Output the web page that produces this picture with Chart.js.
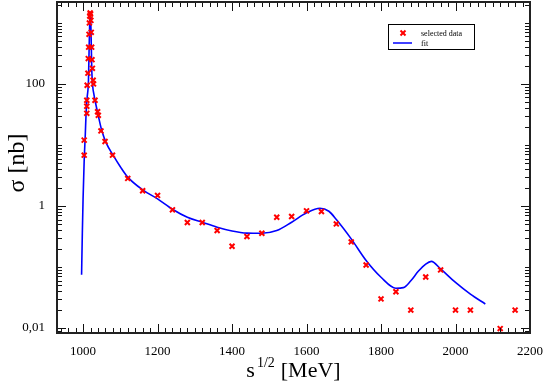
<!DOCTYPE html>
<html>
<head>
<meta charset="utf-8">
<script src="https://cdn.jsdelivr.net/npm/chart.js@4.4.0/dist/chart.umd.min.js"></script>
<style>
  html, body { margin: 0; padding: 0; background: #fff; }
  #wrap { width: 545px; height: 382px; }
</style>
</head>
<body>
<div id="wrap"><canvas id="chart"></canvas></div>
<script>
// selected data: sqrt(s) in MeV, sigma in nb
const dataEnergy = [1003, 1003, 1010, 1010, 1010, 1011, 1013, 1014, 1015, 1016, 1017, 1018, 1019,
  1020, 1021, 1022, 1023, 1024, 1025, 1027, 1028, 1032, 1039, 1041, 1048, 1059, 1079,
  1120, 1160, 1200, 1240, 1280, 1320, 1360, 1400, 1440, 1480, 1520, 1560, 1600, 1640,
  1680, 1720, 1760, 1800, 1840, 1880, 1920, 1960, 2000, 2040, 2120, 2160];
const dataSigma = [6.8, 12, 33, 43, 54, 95, 150, 260, 400, 650, 1000, 1300, 1450,
  1400, 1100, 700, 400, 250, 180, 115, 100, 54, 35, 30.6, 17, 11.4, 6.8,
  2.83, 1.78, 1.49, 0.865, 0.536, 0.536, 0.396, 0.219, 0.316, 0.357, 0.655, 0.672, 0.834, 0.812,
  0.509, 0.258, 0.108, 0.030, 0.0394, 0.0197, 0.0687, 0.0896, 0.0197, 0.0197, 0.0098, 0.0197];

// fit curve, sampled from the plot
const fitEnergy = [996, 998, 1000, 1003, 1006, 1008, 1011, 1014.5, 1016.5, 1018, 1019.5, 1021, 1022,
  1023.5, 1026, 1029, 1032, 1040, 1050, 1063, 1081, 1100, 1120, 1160, 1200, 1240, 1280, 1320,
  1360, 1400, 1440, 1480, 1520, 1560, 1600, 1636, 1660, 1680, 1720, 1760, 1800, 1840, 1860,
  1880, 1900, 1920, 1935, 1960, 2000, 2040, 2080];
const fitSigma = [0.075, 0.35, 1.3, 5.6, 15, 32, 60, 115, 450, 1100, 1500, 900, 450,
  160, 90, 68, 54, 32, 17.4, 10.5, 6.75, 4.4, 2.97, 1.84, 1.31, 0.886, 0.655, 0.542,
  0.45, 0.39, 0.36, 0.357, 0.395, 0.542, 0.773, 0.92, 0.82, 0.6, 0.289, 0.128, 0.068, 0.045, 0.046,
  0.0596, 0.085, 0.112, 0.124, 0.093, 0.056, 0.036, 0.0248];

const xTickValues = [1000, 1200, 1400, 1600, 1800, 2000, 2200];
const yTickValues = [0.01, 1, 100];
const yTickLabels = ['0,01', '1', '100'];

const SERIF = "'Liberation Serif', 'DejaVu Serif', serif";

// inward ticks on all four sides, frame, titles, legend
const decorations = {
  id: 'decorations',
  afterDraw(chart) {
    const { ctx, chartArea: a, scales: { x, y } } = chart;
    ctx.save();

    const seg = (x1, y1, x2, y2) => {
      ctx.beginPath();
      ctx.moveTo(x1, y1);
      ctx.lineTo(x2, y2);
      ctx.stroke();
    };

    ctx.strokeStyle = '#111';
    ctx.lineWidth = 1;
    for (let v = 940; v <= 2200; v += 20) {
      const px = Math.round(x.getPixelForValue(v)) + 0.5;
      const len = v % 200 === 0 ? 9 : 5;
      seg(px, a.bottom, px, a.bottom - len);
      seg(px, a.top, px, a.top + len);
    }
    for (let e = -3; e <= 3; e++) {
      for (let k = 1; k <= 9; k++) {
        const v = k * Math.pow(10, e);
        if (v < y.min || v > y.max) continue;
        const major = k === 1 && e % 2 === 0;
        const len = major ? 9 : 5;
        const py = Math.round(y.getPixelForValue(v)) + 0.5;
        seg(a.left, py, a.left + len, py);
        seg(a.right, py, a.right - len, py);
      }
    }

    // frame
    ctx.strokeStyle = '#222';
    ctx.lineWidth = 2;
    ctx.strokeRect(a.left, a.top, a.right - a.left, a.bottom - a.top);

    // y title
    ctx.fillStyle = '#000';
    ctx.save();
    ctx.translate(24, 163);
    ctx.rotate(-Math.PI / 2);
    ctx.font = '24px ' + SERIF;
    ctx.textAlign = 'center';
    ctx.textBaseline = 'alphabetic';
    ctx.fillText('σ [nb]', 0, 0);
    ctx.restore();

    // x title: s^{1/2} [MeV]
    ctx.textAlign = 'left';
    ctx.textBaseline = 'alphabetic';
    ctx.font = '22px ' + SERIF;
    const wS = ctx.measureText('s').width;
    const wUnit = ctx.measureText('[MeV]').width;
    ctx.font = '14px ' + SERIF;
    const wSup = ctx.measureText('1/2').width;
    const total = wS + 2 + wSup + 6 + wUnit;
    let cx = (a.left + a.right) / 2 - total / 2;
    ctx.font = '22px ' + SERIF;
    ctx.fillText('s', cx, 377);
    cx += wS + 2;
    ctx.font = '14px ' + SERIF;
    ctx.fillText('1/2', cx, 367);
    cx += wSup + 6;
    ctx.font = '22px ' + SERIF;
    ctx.fillText('[MeV]', cx, 377);

    // legend
    ctx.strokeStyle = '#000';
    ctx.lineWidth = 1;
    ctx.strokeRect(388.5, 24.5, 86, 25);
    ctx.strokeStyle = '#ff0000';
    ctx.lineWidth = 2;
    seg(400.5, 30.5, 405.5, 35.5);
    seg(400.5, 35.5, 405.5, 30.5);
    ctx.strokeStyle = '#0000ff';
    ctx.lineWidth = 1.5;
    seg(393, 43, 412, 43);
    ctx.fillStyle = '#000';
    ctx.font = '8px ' + SERIF;
    ctx.fillText('selected data', 421, 36);
    ctx.fillText('fit', 421, 46);

    ctx.restore();
  }
};

const ctx = document.getElementById('chart').getContext('2d');
new Chart(ctx, {
  type: 'scatter',
  data: {
    datasets: [
      {
        label: 'selected data',
        data: dataEnergy.map((e, i) => ({ x: e, y: dataSigma[i] })),
        pointStyle: 'crossRot',
        pointRadius: 3.5,
        borderColor: '#ff0000',
        backgroundColor: '#ff0000',
        borderWidth: 2,
        order: 0
      },
      {
        label: 'fit',
        type: 'line',
        data: fitEnergy.map((e, i) => ({ x: e, y: fitSigma[i] })),
        borderColor: '#0000ff',
        borderWidth: 1.6,
        pointRadius: 0,
        fill: false,
        cubicInterpolationMode: 'monotone',
        order: 1
      }
    ]
  },
  options: {
    responsive: true,
    maintainAspectRatio: false,
    animation: false,
    devicePixelRatio: 1,
    layout: { autoPadding: false, padding: { top: 2, right: 15, left: 0, bottom: 0 } },
    plugins: {
      legend: { display: false },
      tooltip: { enabled: false }
    },
    scales: {
      x: {
        type: 'linear',
        min: 930,
        max: 2200,
        grid: { display: false },
        border: { display: false },
        afterBuildTicks: (scale) => { scale.ticks = xTickValues.map(v => ({ value: v })); },
        afterFit: (scale) => {
          scale.height = 49;
          scale.paddingLeft = 0;
          scale.paddingRight = 0;
        },
        ticks: {
          padding: 3,
          maxRotation: 0,
          color: '#000',
          font: { family: SERIF, size: 13 },
          callback: (v) => String(v)
        }
      },
      y: {
        type: 'logarithmic',
        min: 0.0083,
        max: 2200,
        grid: { display: false },
        border: { display: false },
        afterBuildTicks: (scale) => { scale.ticks = yTickValues.map(v => ({ value: v })); },
        afterFit: (scale) => {
          scale.width = 57;
          scale.paddingTop = 0;
          scale.paddingBottom = 0;
        },
        ticks: {
          padding: 4,
          color: '#000',
          font: { family: SERIF, size: 13 },
          callback: (v) => {
            const i = yTickValues.indexOf(v);
            return i >= 0 ? yTickLabels[i] : '';
          }
        }
      }
    }
  },
  plugins: [decorations]
});
</script>
</body>
</html>
